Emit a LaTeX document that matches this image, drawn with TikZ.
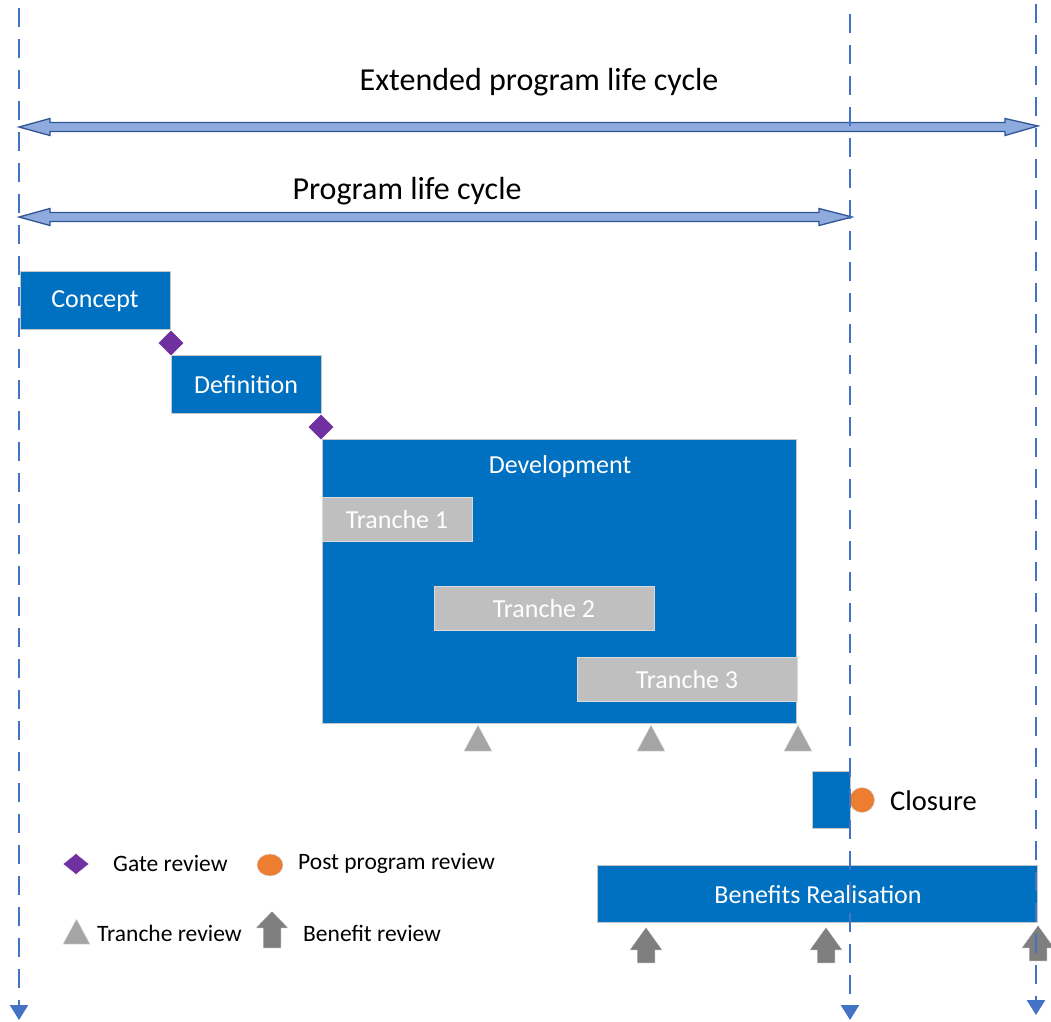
\documentclass[tikz,border=0pt]{standalone}
\usepackage{fontspec}
\setmainfont{Carlito}
\usetikzlibrary{arrows.meta,calc}
\definecolor{boxblue}{HTML}{0070C0}
\definecolor{gatepurple}{HTML}{7030A0}
\definecolor{postorange}{HTML}{ED7D31}
\definecolor{tranchegray}{HTML}{BFBFBF}
\definecolor{tritgray}{HTML}{A5A5A5}
\definecolor{benefitgray}{HTML}{7F7F7F}
\definecolor{guideblue}{HTML}{4472C4}
\definecolor{spanfill}{HTML}{8FAADC}
\definecolor{spanedge}{HTML}{2F5597}
\tikzset{
  phase/.style={fill=boxblue, draw=black!22, line width=0.8pt, inner sep=0pt,
    anchor=north west},
  phasetext/.style={text=white, font=\fontsize{26}{30}\selectfont, inner sep=0pt},
  tranchebox/.style={fill=tranchegray, draw=black!15, line width=0.6pt, inner sep=0pt,
    anchor=north west, minimum height=44pt},
  guide/.style={draw=guideblue, line width=2.4pt, dash pattern=on 19pt off 12pt,
    -{Triangle[width=18pt,length=15pt]}},
  span/.style={fill=spanfill, draw=spanedge, line width=1.3pt, line join=miter},
  gate/.style={fill=gatepurple, draw=white, line width=0.4pt},
  post/.style={fill=postorange, draw=black!15, line width=0.5pt},
  treview/.style={fill=tritgray, draw=black!12, line width=0.5pt},
  breview/.style={fill=benefitgray, draw=white, line width=0.5pt},
  heading/.style={font=\fontsize{32}{38}\selectfont, text=black, inner sep=0pt},
  legendtext/.style={font=\fontsize{23.5}{28}\selectfont, anchor=west, inner sep=0pt}
}
% horizontal double-headed block arrow between two coordinates
\newcommand{\spanarrow}[2]{%
  \path[span] let \p1=(#1), \p2=(#2) in
    (\p1) -- (\x1+31pt,\y1+8.5pt) -- (\x1+31pt,\y1+4.5pt) -- (\x2-33pt,\y1+4.5pt)
    -- (\x2-33pt,\y1+8.5pt) -- (\p2) -- (\x2-33pt,\y1-8.5pt) -- (\x2-33pt,\y1-4.5pt)
    -- (\x1+31pt,\y1-4.5pt) -- (\x1+31pt,\y1-8.5pt) -- cycle;}
% diamond marker centred on a coordinate
\newcommand{\gatemark}[3]{%
  \path[gate] (#1) ++(-#2pt,0) -- ++(#2pt,#3pt) -- ++(#2pt,-#3pt) -- ++(-#2pt,-#3pt) -- cycle;}
% upward triangle whose apex is at a coordinate
\newcommand{\trianglemark}[1]{%
  \path[treview] (#1) -- ++(14pt,-26pt) -- ++(-28pt,0) -- cycle;}
% upward block arrow whose tip is at a coordinate
\newcommand{\benefitmark}[3]{%
  \path[breview] (#1) -- ++(16.5pt,-#2pt) -- ++(-7.5pt,0) -- ++(0,-#3pt) -- ++(-18pt,0)
    -- ++(0,#3pt) -- ++(-7.5pt,0) -- cycle;}
\begin{document}
\begin{tikzpicture}[x=1pt,y=-1pt]
\useasboundingbox (0,0) rectangle (1051,1021);

% life cycle spans
\node[heading] (exttitle) at (539,82) {Extended program life cycle};
\coordinate (extL) at (19,127);
\coordinate (extR) at (1038,126);
\spanarrow{extL}{extR}
\node[heading] (progtitle) at (407,191) {Program life cycle};
\coordinate (progL) at (19,217);
\coordinate (progR) at (852,217);
\spanarrow{progL}{progR}

% phases
\node[phase, minimum width=150pt, minimum height=58pt] (concept) at (20,271) {};
\node[phasetext] (conceptlbl) at (95,301) {Concept};
\node[phase, minimum width=150pt, minimum height=58pt] (definition) at (171,355) {};
\node[phasetext] (definitionlbl) at (246,385) {Definition};
\node[phase, minimum width=474pt, minimum height=284pt] (development) at (322,439) {};
\node[phasetext] (devlbl) at (560,467) {Development};

\node[tranchebox, minimum width=150pt] (t1) at (322,497) {};
\node[phasetext] (t1lbl) at (397,520) {Tranche 1};
\node[tranchebox, minimum width=220pt] (t2) at (434,586) {};
\node[phasetext] (t2lbl) at (544,609) {Tranche 2};
\node[tranchebox, minimum width=220pt] (t3) at (577,657) {};
\node[phasetext] (t3lbl) at (687,680) {Tranche 3};

% gate reviews
\coordinate (gate1) at (171,343);
\coordinate (gate2) at (321,427);
\gatemark{gate1}{13}{13}
\gatemark{gate2}{13}{13}

% tranche reviews
\coordinate (tr1) at (478,725);
\coordinate (tr2) at (651,725);
\coordinate (tr3) at (798,725);
\trianglemark{tr1}
\trianglemark{tr2}
\trianglemark{tr3}

% closure
\node[phase, minimum width=38pt, minimum height=57pt] (closure) at (812,771) {};
\path[post] (862,800) circle (12.5pt);
\node[anchor=west, inner sep=0pt, font=\fontsize{28.5}{34}\selectfont] (closurelbl) at (890,801) {Closure};

% benefits realisation
\node[phase, minimum width=440pt, minimum height=57pt] (benefits) at (597,865) {};
\node[phasetext] (benefitslbl) at (818,895) {Benefits Realisation};

% benefit reviews
\coordinate (br1) at (646,927);
\coordinate (br2) at (826,927);
\coordinate (br3) at (1038,925);
\benefitmark{br1}{23}{13}
\benefitmark{br2}{23}{13}
\benefitmark{br3}{23}{13}

% legend
\coordinate (lgate) at (76,864);
\gatemark{lgate}{13}{10.5}
\node[legendtext] (lgatetxt) at (113,863) {Gate review};
\path[post] (270,865) ellipse (13pt and 11pt);
\node[legendtext] (lposttxt) at (298,863) {Post program review};
\coordinate (ltr) at (76.5,919);
\path[treview] (ltr) -- ++(13.5pt,-25pt) -- ++(-27pt,0) -- cycle;
\node[legendtext] (ltrtxt) at (97,933) {Tranche review};
\coordinate (lbr) at (272,911);
\benefitmark{lbr}{17}{20}
\node[legendtext] (lbrtxt) at (303,933) {Benefit review};

% vertical time markers, drawn over everything else
\coordinate (g1t) at (19,8);    \coordinate (g1b) at (19,1020);
\coordinate (g2t) at (850,14);  \coordinate (g2b) at (850,1020);
\coordinate (g3t) at (1036,4);  \coordinate (g3b) at (1036,1015);
\draw[guide] (g1t) -- (g1b);
\draw[guide] (g2t) -- (g2b);
\draw[guide] (g3t) -- (g3b);
\end{tikzpicture}
\end{document}
